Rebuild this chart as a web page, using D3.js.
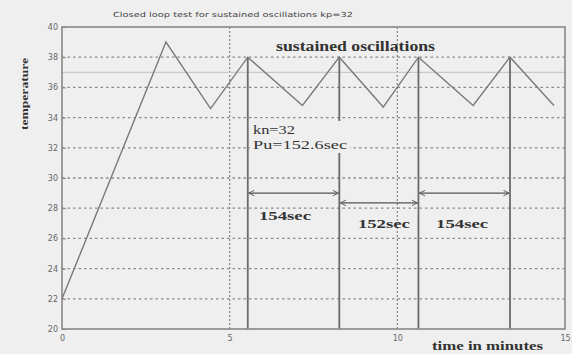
<!DOCTYPE html>
<html><head><meta charset="utf-8">
<script src="https://cdn.jsdelivr.net/npm/d3@7"></script>
<style>html,body{margin:0;padding:0;background:#efefef;}svg{display:block;}</style>
</head><body>
<svg id="c" width="572" height="354"></svg>
<script>
// Data
const times = [0, 3.1, 4.43, 5.54, 7.17, 8.27, 9.58, 10.63, 12.26, 13.36, 14.67];
const temps = [22, 39.0, 34.6, 38.0, 34.8, 38.0, 34.7, 38.0, 34.8, 38.0, 34.8];
const peakTimes = [5.54, 8.27, 10.63, 13.36];
const peakTemps = [38.0, 38.0, 38.0, 38.0];
const setpoint = 37;
const xTicks = [0, 5, 10, 15];
const yTicks = [20, 22, 24, 26, 28, 30, 32, 34, 36, 38, 40];
const arrowStart = [5.54, 8.27, 10.63];
const arrowEnd = [8.27, 10.63, 13.36];
const arrowLevel = [29.0, 28.35, 29.0];
const arrowLabels = ["154sec", "152sec", "154sec"];
const arrowLabelTime = [6.65, 9.6, 11.93];
const arrowLabelLevel = [27.2, 26.7, 26.7];

const svg = d3.select("#c");
const x = d3.scaleLinear().domain([0, 15]).range([62, 565]);
const y = d3.scaleLinear().domain([20, 40]).range([329, 27]);
const serif = "Liberation Serif, DejaVu Serif, serif";

// gridlines
const grid = svg.append("g");
grid.selectAll("line.h").data(yTicks.filter(v => v > 20 && v < 40)).enter().append("line")
  .attr("x1", x(0)).attr("x2", x(15)).attr("y1", d => y(d)).attr("y2", d => y(d))
  .attr("stroke", "#8a8a8a").attr("stroke-width", 1.3).attr("stroke-dasharray", "2.5,3");
grid.selectAll("line.v").data(xTicks.filter(v => v > 0 && v < 15)).enter().append("line")
  .attr("x1", d => x(d)).attr("x2", d => x(d)).attr("y1", y(20)).attr("y2", y(40))
  .attr("stroke", "#8a8a8a").attr("stroke-width", 1.3).attr("stroke-dasharray", "2,2");

// setpoint line
svg.append("line").attr("x1", x(0)).attr("x2", x(15)).attr("y1", y(setpoint)).attr("y2", y(setpoint))
  .attr("stroke", "#c9c9c9").attr("stroke-width", 1.3);

// vertical marker lines at peaks
svg.selectAll("line.pk").data(peakTimes).enter().append("line")
  .attr("x1", d => x(d)).attr("x2", d => x(d)).attr("y1", (d, i) => y(peakTemps[i])).attr("y2", y(20))
  .attr("stroke", "#6a6a6a").attr("stroke-width", 1.8);

// response line
const pts = times.map((t, i) => [t, temps[i]]);
svg.append("path").datum(pts)
  .attr("d", d3.line().x(d => x(d[0])).y(d => y(d[1])))
  .attr("fill", "none").attr("stroke", "#7a7a7a").attr("stroke-width", 1.4);

// axes box
svg.append("rect").attr("x", x(0)).attr("y", y(40)).attr("width", x(15) - x(0)).attr("height", y(20) - y(40))
  .attr("fill", "none").attr("stroke", "#888").attr("stroke-width", 1.6);

// axes tick labels
const xAxis = d3.axisBottom(x).tickValues(xTicks).tickSize(0).tickPadding(6);
const gx = svg.append("g").attr("transform", `translate(0,${y(20)})`).call(xAxis);
gx.select(".domain").remove();
gx.selectAll("text").attr("font-family", "DejaVu Sans, sans-serif").attr("font-size", 8).attr("fill", "#666");
const yAxis = d3.axisLeft(y).tickValues(yTicks).tickSize(0).tickPadding(4);
const gy = svg.append("g").attr("transform", `translate(${x(0)},0)`).call(yAxis);
gy.select(".domain").remove();
gy.selectAll("text").attr("font-family", "DejaVu Sans, sans-serif").attr("font-size", 8).attr("fill", "#666");
gy.selectAll("g.tick").append("line").attr("x1", 0).attr("x2", 4).attr("stroke", "#888");

// title
svg.append("text").attr("x", 233).attr("y", 17).attr("text-anchor", "middle")
  .attr("font-family", "DejaVu Sans, sans-serif").attr("font-size", 7).attr("fill", "#444")
  .attr("textLength", 240).attr("lengthAdjust", "spacingAndGlyphs")
  .text("Closed loop test for sustained oscillations kp=32");

// y label
svg.append("text").attr("transform", "translate(28,94) rotate(-90)").attr("text-anchor", "middle")
  .attr("font-family", serif).attr("font-weight", "bold").attr("font-size", 10).attr("fill", "#333")
  .attr("textLength", 72).attr("lengthAdjust", "spacingAndGlyphs").text("temperature");

// x label
svg.append("text").attr("x", 432).attr("y", 350)
  .attr("font-family", serif).attr("font-weight", "bold").attr("font-size", 12).attr("fill", "#333")
  .attr("textLength", 111).attr("lengthAdjust", "spacingAndGlyphs").text("time in minutes");

// sustained oscillations
svg.append("text").attr("x", 276).attr("y", 51)
  .attr("font-family", serif).attr("font-weight", "bold").attr("font-size", 14).attr("fill", "#333")
  .attr("textLength", 159).attr("lengthAdjust", "spacingAndGlyphs").text("sustained oscillations");

// annotation box
svg.append("rect").attr("x", 250).attr("y", 121).attr("width", 100).attr("height", 32).attr("fill", "#efefef");
svg.append("text").attr("x", 253).attr("y", 134)
  .attr("font-family", serif).attr("font-size", 12).attr("fill", "#333")
  .attr("textLength", 42).attr("lengthAdjust", "spacingAndGlyphs").text("kn=32");
svg.append("text").attr("x", 253).attr("y", 149)
  .attr("font-family", serif).attr("font-size", 12).attr("fill", "#333")
  .attr("textLength", 94).attr("lengthAdjust", "spacingAndGlyphs").text("Pu=152.6sec");

// arrows
svg.append("defs").html(
  '<marker id="ae" viewBox="0 0 10 10" refX="9" refY="5" markerWidth="7" markerHeight="7" orient="auto-start-reverse" markerUnits="userSpaceOnUse"><path d="M1,1 L9,5 L1,9" fill="none" stroke="#555" stroke-width="1.3"/></marker>');
svg.selectAll("line.ar").data(arrowStart).enter().append("line")
  .attr("x1", d => x(d) + 1).attr("x2", (d, i) => x(arrowEnd[i]) - 1)
  .attr("y1", (d, i) => y(arrowLevel[i])).attr("y2", (d, i) => y(arrowLevel[i]))
  .attr("stroke", "#555").attr("stroke-width", 1.4)
  .attr("marker-start", "url(#ae)").attr("marker-end", "url(#ae)");
svg.selectAll("text.al").data(arrowLabels).enter().append("text")
  .attr("x", (d, i) => x(arrowLabelTime[i]))
  .attr("y", (d, i) => y(arrowLabelLevel[i]))
  .attr("text-anchor", "middle")
  .attr("font-family", serif).attr("font-weight", "bold").attr("font-size", 13).attr("fill", "#333")
  .attr("textLength", 52).attr("lengthAdjust", "spacingAndGlyphs")
  .text(d => d);
</script>
</body></html>
